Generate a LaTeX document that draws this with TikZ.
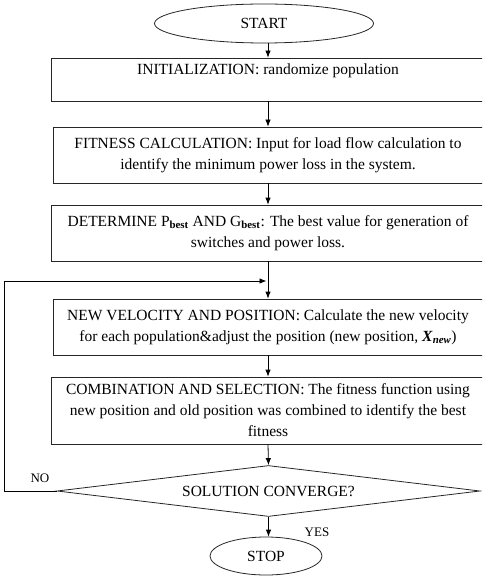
\documentclass[tikz,border=0pt]{standalone}
\usepackage{fontspec}
\setmainfont{Liberation Serif}
\usepackage{tikz}
\usetikzlibrary{calc}
\usetikzlibrary{arrows.meta}
\usetikzlibrary{shapes.geometric}
\tikzset{
    terminal/.style={draw=black!85, ellipse, inner sep=0pt},
    stepbox/.style={draw=black!85, rectangle, align=center, inner sep=0pt},
    decision/.style={draw=black!85, diamond, aspect=8.3, inner sep=0pt, minimum width=423pt, minimum height=51pt},
    flow/.style={-{Latex[length=7pt,width=5.5pt]}, draw=black},
}

\begin{document}
\begin{tikzpicture}[x=1pt, y=-1pt, line width=0.8pt, font=\fontsize{15.5}{21}\selectfont]
            \useasboundingbox                                                   (  0.00,  0.00) rectangle (482.00,577.00);
            \clip                                                               (  0.00,  0.00) rectangle (482.00,577.00);
            \node[terminal, minimum width=219pt, minimum height=39pt]  (start) at (264.00, 23.50) {START};
            \node[stepbox,  minimum width=434pt, minimum height=43pt]  (init)  at (268.00, 79.50)
                 {INITIALIZATION: randomize population\\~};
            \node[stepbox,  minimum width=430pt, minimum height=56pt]  (fit)   at (268.00,155.00)
                 {FITNESS CALCULATION: Input for load flow calculation to\\identify the minimum power loss in the system.};
            \node[stepbox,  minimum width=434pt, minimum height=56pt]  (best)  at (268.00,233.00)
                 {DETERMINE P\textsubscript{\textbf{best}} AND G\textsubscript{\textbf{best}}: The best value for generation of\\switches and power loss.};
            \node[stepbox,  minimum width=430pt, minimum height=56pt]  (vel)   at (268.00,327.00)
                 {NEW VELOCITY AND POSITION: Calculate the new velocity\\for each population\&adjust the position (new position, \textbf{\textit{X}}\textsubscript{\textbf{\textit{new}}})};
            \node[stepbox,  minimum width=434pt, minimum height=67pt]  (comb)  at (268.00,410.50)
                 {COMBINATION AND SELECTION: The fitness function using\\new position and old position was combined to identify the best\\fitness};
            \node[decision]                                            (conv)  at (268.50,491.00) {SOLUTION CONVERGE?};
            \node[terminal, minimum width=112pt, minimum height=38pt]  (stop)  at (266.00,556.00) {STOP};
            \node[font=\fontsize{13}{15}\selectfont]                   (no)    at ( 40.00,478.00) {NO};
            \node[font=\fontsize{13}{15}\selectfont]                   (yes)   at (317.00,532.00) {YES};
            \coordinate                                                (corner) at (  4.00,281.00);
            \coordinate                                                (merge)  at (266.50,281.00);
            \draw[flow] (start.south -| init.north) -- (init.north);
            \draw[flow] (init.south)                -- (fit.north);
            \draw[flow] (fit.south)                 -- (best.north);
            \draw[flow] (best.south)                -- (vel.north);
            \draw[flow] (vel.south)                 -- (comb.north);
            \draw[flow] (comb.south)                -- (conv.north);
            \draw[flow] (conv.south)                -- (conv.south |- stop.north);
            \draw[flow] (conv.west) -| (corner)     -- (merge);
        \end{tikzpicture}
\end{document}
